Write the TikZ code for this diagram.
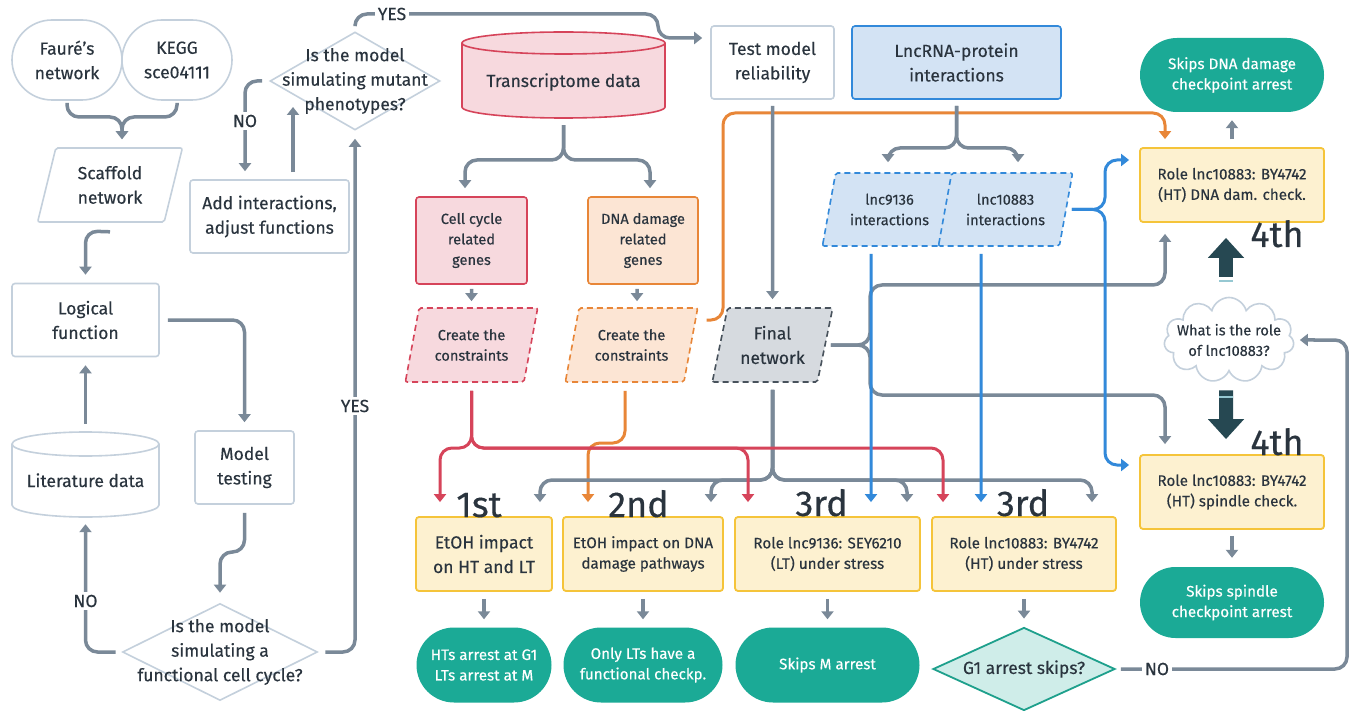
\documentclass[tikz,border=0pt]{standalone}
\usepackage{fontspec}
\setmainfont{Fira Sans}[FakeBold=0.3]
\usetikzlibrary{shapes.geometric,shapes.misc,shapes.symbols,arrows.meta}
\definecolor{txt}{RGB}{42,52,62}
\definecolor{lbord}{RGB}{196,208,220}
\definecolor{gline}{RGB}{122,137,152}
\definecolor{redb}{RGB}{214,68,90}
\definecolor{redf}{RGB}{247,217,222}
\definecolor{orb}{RGB}{232,134,56}
\definecolor{orf}{RGB}{252,229,212}
\definecolor{blb}{RGB}{50,137,218}
\definecolor{blf}{RGB}{211,227,244}
\definecolor{gyb}{RGB}{72,82,92}
\definecolor{gyf}{RGB}{214,218,223}
\definecolor{yeb}{RGB}{245,196,58}
\definecolor{yef}{RGB}{253,241,208}
\definecolor{tealA}{RGB}{27,170,150}
\definecolor{tealB}{RGB}{30,160,140}
\definecolor{tealF}{RGB}{207,237,233}
\definecolor{darkA}{RGB}{38,72,82}
\definecolor{tealD}{RGB}{150,200,210}
\newcommand\myL{\fontsize{17.5}{24.5}\selectfont}
\newcommand\myM{\fontsize{15.2}{20.5}\selectfont}
\newcommand\myS{\fontsize{14.6}{20.5}\selectfont}
\newcommand\myO{\fontsize{36}{36}\selectfont}
\begin{document}
\begin{tikzpicture}[x=1pt,y=1pt,
 every node/.style={text=txt, inner sep=0pt, font=\myL, align=center},
 lbox/.style={draw=lbord, line width=1.6pt, fill=white, rounded corners=3pt},
 redbox/.style={draw=redb, line width=1.6pt, fill=redf, rounded corners=3pt},
 orbox/.style={draw=orb, line width=1.6pt, fill=orf, rounded corners=3pt},
 blbox/.style={draw=blb, line width=1.6pt, fill=blf, rounded corners=3pt},
 ybox/.style={draw=yeb, line width=1.8pt, fill=yef, rounded corners=3pt, minimum height=74pt, font=\myM},
 term/.style={rounded rectangle, fill=tealA, text=white, font=\myM},
 para/.style={trapezium, trapezium stretches=true, trapezium left angle=73, trapezium right angle=107, rounded corners=2pt, line width=1.6pt},
 dsh/.style={dash pattern=on 6pt off 4pt},
 conn/.style={draw=gline, line width=3.5pt, rounded corners=12pt, -{Triangle[width=12pt,length=8pt]}},
 redc/.style={conn, draw=redb, line width=3pt},
 orc/.style={conn, draw=orb, line width=3pt},
 blc/.style={conn, draw=blb, line width=3pt},
 lbl/.style={fill=white, font=\myL, inner sep=3pt},
 ord/.style={font=\myO, text=txt, anchor=base},
 fat/.style={draw=darkA, line width=14pt, -{Triangle[width=35pt,length=20pt]}},
]
\fill[white] (0,0) rectangle (1354,-711);
\useasboundingbox (0,0) rectangle (1354,-711);

% ---------- left column ----------
\node[lbox, rounded corners=40pt, minimum width=110pt, minimum height=80pt] (fa) at (67,-60) {Fauré’s\\network};
\node[lbox, rounded corners=40pt, minimum width=110pt, minimum height=80pt] (kg) at (177,-60) {KEGG\\sce04111};
\node[para, draw=lbord, fill=white, minimum width=146pt, minimum height=74pt, trapezium left angle=74, trapezium right angle=106] (sc) at (110,-185) {Scaffold\\network};
\node[lbox, minimum width=147pt, minimum height=73pt] (lf) at (85.5,-320) {Logical\\function};
\path[draw=lbord, line width=1.6pt, fill=white] (12,-444) -- (12,-505) arc[start angle=180, end angle=360, x radius=73.5, y radius=12] -- (159,-444) arc[start angle=0, end angle=180, x radius=73.5, y radius=12] -- cycle;
\draw[lbord, line width=1.6pt] (12,-444) arc[start angle=180, end angle=360, x radius=73.5, y radius=12];
\node[minimum width=147pt, minimum height=85pt, text height=25pt, text depth=0pt] (lit) at (85.5,-474.5) {Literature data};
\node[lbox, minimum width=99pt, minimum height=73pt] (mt) at (244.5,-467.5) {Model\\testing};
\node[diamond, aspect=2, draw=lbord, line width=1.6pt, fill=white, minimum width=195pt, minimum height=97pt] (d2) at (220,-652) {};
\node (d2t) at (220,-652) {Is the model\\simulating a\\functional cell cycle?};
\node[diamond, aspect=2, draw=lbord, line width=1.6pt, fill=white, minimum width=170pt, minimum height=98pt] (d1) at (355,-81) {};
\node (d1t) at (355,-81) {Is the model\\simulating mutant\\phenotypes?};
\node[lbox, minimum width=159pt, minimum height=73pt] (ai) at (269.5,-216.5) {Add interactions,\\adjust functions};
\coordinate (d1in) at (293,-107);

% ---------- centre ----------
\path[draw=redb, line width=1.6pt, fill=redf] (462,-43) -- (462,-107) arc[start angle=180,end angle=360,x radius=101.5,y radius=11] -- (665,-43) arc[start angle=0,end angle=180,x radius=101.5,y radius=11] -- cycle;
\draw[redb, line width=1.6pt] (462,-43) arc[start angle=180,end angle=360,x radius=101.5,y radius=11];
\node[minimum width=203pt, minimum height=86pt, text height=24pt, text depth=0pt] (td) at (563.5,-75) {Transcriptome data};
\node[lbox, minimum width=123pt, minimum height=73pt] (tmr) at (772.5,-62.5) {Test model\\reliability};
\node[blbox, minimum width=209pt, minimum height=73pt] (lnc) at (956.5,-62.5) {LncRNA-protein\\interactions};
\node[redbox, minimum width=111pt, minimum height=87pt, font=\myS] (ccg) at (471.5,-240.5) {Cell cycle\\related\\genes};
\node[orbox, minimum width=110pt, minimum height=87pt, font=\myS] (dng) at (643,-240.5) {DNA damage\\related\\genes};
\node[para, draw=redb, fill=redf, dsh, minimum width=133pt, minimum height=74pt, font=\myS] (cc1) at (471.5,-345) {Create the\\constraints};
\node[para, draw=orb, fill=orf, dsh, minimum width=133pt, minimum height=74pt, font=\myS] (cc2) at (631.5,-345) {Create the\\constraints};
\node[para, draw=gyb, fill=gyf, dsh, minimum width=121pt, minimum height=74pt, trapezium left angle=74, trapezium right angle=106] (fn) at (772.5,-345) {Final\\network};
\node[para, draw=blb, fill=blf, dsh, minimum width=135pt, minimum height=73pt, font=\myS] (l9) at (889.5,-209.5) {lnc9136\\interactions};
\node[para, draw=blb, fill=blf, dsh, minimum width=135pt, minimum height=73pt, font=\myS] (l10) at (1005.5,-209.5) {lnc10883\\interactions};

% ---------- bottom row ----------
\node[ybox, minimum width=136pt, font=\myL] (b1) at (484,-554) {EtOH impact\\on HT and LT};
\node[ybox, minimum width=160pt] (b2) at (643,-554) {EtOH impact on DNA\\damage pathways};
\node[ybox, minimum width=185pt] (b3) at (827.5,-554) {Role lnc9136: SEY6210\\(LT) under stress};
\node[ybox, minimum width=184pt] (b4) at (1024,-554) {Role lnc10883: BY4742\\(HT) under stress};
\node[term, minimum width=135pt, minimum height=75pt] (t1) at (484,-665) {HTs arrest at G1\\LTs arrest at M};
\node[term, minimum width=159pt, minimum height=75pt] (t2) at (643,-665) {Only LTs have a\\functional checkp.};
\node[term, minimum width=184pt, minimum height=75pt] (t3) at (827.5,-665) {Skips M arrest};
\node[diamond, aspect=2, draw=tealB, fill=tealF, line width=1.8pt, minimum width=182pt, minimum height=83pt] (g1) at (1024,-669) {};
\node (g1t) at (1024,-669) {G1 arrest skips?};

% ---------- right column ----------
\node[term, minimum width=184pt, minimum height=74pt] (s1) at (1232,-75) {Skips DNA damage\\checkpoint arrest};
\node[ybox, minimum width=184pt] (r1) at (1232,-185) {Role lnc10883: BY4742\\(HT) DNA dam. check.};
\node[cloud, cloud puffs=11, cloud ignores aspect, draw=lbord, fill=white, line width=1.6pt, minimum width=130pt, minimum height=85pt] (cl) at (1229,-340) {};
\node[font=\myS] (clt) at (1229,-340) {What is the role\\of lnc10883?};
\node[ybox, minimum width=184pt] (r2) at (1232,-492) {Role lnc10883: BY4742\\(HT) spindle check.};
\node[term, minimum width=184pt, minimum height=71pt] (s2) at (1232,-602.5) {Skips spindle\\checkpoint arrest};

% ---------- orange connectors ----------
\draw[orc] ([shift={(75pt,25pt)}]cc2.center) -- (723,-320) -- (723,-113) -- (1165,-113) -- ([xshift=-67pt,yshift=8pt]r1.north);
\draw[orc] ([xshift=-6.5pt,yshift=-8pt]cc2.south) -- (625,-443) -- (588,-443) -- ([xshift=-55pt,yshift=14pt]b2.north);

% ---------- gray connectors ----------
\draw[conn] ([yshift=-2pt]fa.south) -- (67,-117) -- (122,-117) -- ([xshift=12pt,yshift=8pt]sc.north);
\draw[conn] ([yshift=-2pt]kg.south) -- (177,-117) -- (122,-117) -- ([xshift=12pt,yshift=8pt]sc.north);
\draw[conn] ([yshift=-9pt]sc.south) -- (85.5,-231) -- ([yshift=8pt]lf.north);
\draw[conn] ([yshift=8pt]lit.north) -- ([yshift=-8pt]lf.south);
\draw[conn] ([xshift=8pt]lf.east) -| ([yshift=8pt]mt.north);
\draw[conn] ([yshift=-8pt]mt.south) -- (244.5,-552) -- (220,-552) -- ([yshift=10pt]d2.north);
\draw[conn] ([xshift=-6pt]d2.west) -| ([yshift=-7pt]lit.south);
\draw[conn] ([xshift=7pt]d2.east) -| ([yshift=-8pt]d1.south);
\draw[conn] ([xshift=-7pt]d1.west) -| ([xshift=-24.5pt,yshift=8pt]ai.north);
\draw[conn] ([xshift=23.5pt,yshift=7pt]ai.north) -- (d1in);
\draw[conn] ([yshift=7pt]d1.north) -- (355,-14) -- (658,-14) -- (658,-38) -- ([yshift=24.5pt,xshift=-8pt]tmr.west);
\draw[conn] ([yshift=-6pt]tmr.south) -- ([yshift=8pt]fn.north);
\draw[conn] ([yshift=-7pt]td.south) -- (563.5,-160) -- (465,-160) -- ([xshift=-6.5pt,yshift=8pt]ccg.north);
\draw[conn] ([yshift=-7pt]td.south) -- (563.5,-160) -- (650,-160) -- ([xshift=7pt,yshift=8pt]dng.north);
\draw[conn] ([yshift=-4pt]ccg.south) -- ([yshift=6pt]cc1.north);
\draw[conn] ([xshift=-6pt,yshift=-4pt]dng.south) -- ([xshift=5.5pt,yshift=6pt]cc2.north);
\draw[conn] ([yshift=-6pt]lnc.south) -- (956.5,-148) -- (888,-148) -- ([xshift=-1.5pt,yshift=10pt]l9.north);
\draw[conn] ([yshift=-6pt]lnc.south) -- (956.5,-148) -- (1018,-148) -- ([xshift=12.5pt,yshift=10pt]l10.north);
\draw[conn] ([xshift=5pt]fn.east) -- (870,-345) -- (870,-285) -- (1165,-285) -- ([xshift=-67pt,yshift=-11pt]r1.south);
\draw[conn] ([xshift=5pt]fn.east) -- (870,-345) -- (870,-395) -- (1165,-395) -- ([xshift=-67pt,yshift=10pt]r2.north);
\draw[conn] ([yshift=-7pt]fn.south) -- (772.5,-480) -- (540,-480) -- ([xshift=56pt,yshift=14pt]b1.north);
\draw[conn] ([yshift=-7pt]fn.south) -- (772.5,-480) -- (711,-480) -- ([xshift=68pt,yshift=14pt]b2.north);
\draw[conn] ([yshift=-7pt]fn.south) -- (772.5,-480) -- (907,-480) -- ([xshift=79.5pt,yshift=14pt]b3.north);
\draw[conn] ([yshift=-7pt]fn.south) -- (772.5,-480) -- (1092,-480) -- ([xshift=68pt,yshift=14pt]b4.north);
\draw[conn] ([yshift=-7pt]b1.south) -- ([yshift=8pt]t1.north);
\draw[conn] ([yshift=-7pt]b2.south) -- ([yshift=8pt]t2.north);
\draw[conn] ([yshift=-7pt]b3.south) -- ([yshift=8pt]t3.north);
\draw[conn] ([yshift=-7pt]b4.south) -- ([yshift=8pt]g1.north);
\draw[conn] ([yshift=8pt]r1.north) -- ([yshift=-8pt]s1.south);
\draw[conn] ([yshift=-6pt]r2.south) -- ([yshift=9pt]s2.north);
\draw[conn] ([xshift=5pt]g1.east) -- (1347,-669) -- (1347,-340) -- ([xshift=6pt]cl.east);

% ---------- red connectors ----------
\draw[redc] ([yshift=-8pt]cc1.south) -- (471.5,-448) -- (440,-448) -- ([xshift=-44pt,yshift=14pt]b1.north);
\draw[redc] ([yshift=-8pt]cc1.south) -- (471.5,-448) -- (748,-448) -- ([xshift=-79.5pt,yshift=14pt]b3.north);
\draw[redc] ([yshift=-8pt]cc1.south) -- (471.5,-448) -- (943,-448) -- ([xshift=-81pt,yshift=14pt]b4.north);

% ---------- blue connectors ----------
\draw[blc] ([xshift=-18.5pt,yshift=-7pt]l9.south) -- ([xshift=43.5pt,yshift=14pt]b3.north);
\draw[blc] ([xshift=-24.5pt,yshift=-7pt]l10.south) -- ([xshift=-43pt,yshift=14pt]b4.north);
\draw[blc] ([xshift=5pt]l10.east) -- (1105,-209.5) -- (1105,-160) -- ([yshift=25pt,xshift=-10pt]r1.west);
\draw[blc] ([xshift=5pt]l10.east) -- (1105,-209.5) -- (1105,-465) -- ([yshift=27pt,xshift=-10pt]r2.west);

% ---------- fat arrows ----------
\draw[fat] ([xshift=-3pt,yshift=20pt]cl.north) -- ([xshift=-6pt,yshift=-15pt]r1.south);
\draw[fat] ([xshift=-3pt,yshift=-18pt]cl.south) -- ([xshift=-6pt,yshift=15pt]r2.north);
\draw[tealD, line width=1.5pt] (1219,-281) -- (1233,-281);
\draw[tealD, line width=1.5pt] (1219,-397) -- (1233,-397);

% ---------- labels ----------
\node[lbl] (no1) at (85.5,-601) {NO};
\node[lbl] (yes1) at (355,-406) {YES};
\node[lbl] (no2) at (245,-121) {NO};
\node[lbl] (yes2) at (392,-14) {YES};
\node[lbl] (no3) at (1157,-669) {NO};
\node[ord] (o1) at (479,-517) {1st};
\node[ord] (o2) at (638.5,-517) {2nd};
\node[ord] (o3) at (821.5,-516) {3rd};
\node[ord] (o4) at (1023,-516) {3rd};
\node[ord] (o5) at (1277,-247) {4th};
\node[ord] (o6) at (1277,-455) {4th};
\end{tikzpicture}
\end{document}
